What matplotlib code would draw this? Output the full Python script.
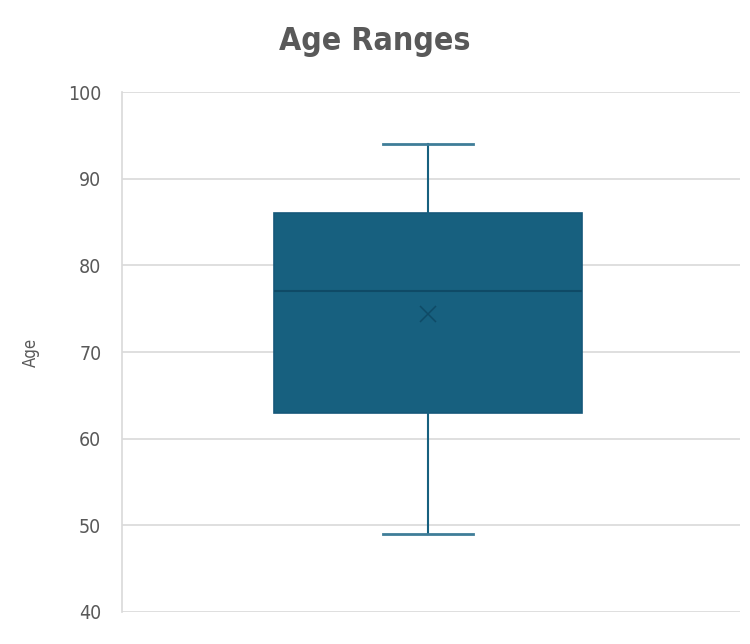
import matplotlib.pyplot as plt

# Box plot summary
q1 = 63
median = 77
q3 = 86
mean = 74.4
whisker_low = 49
whisker_high = 94

BOX = "#17607f"
GREY = "#595959"

plt.rcParams["font.family"] = ["DejaVu Sans"]
plt.rcParams["font.stretch"] = "condensed"

fig = plt.figure(figsize=(7.5, 6.44), dpi=100)
ax = fig.add_axes([0.163, 0.0497, 0.824, 0.8074])

stats = [{
    "q1": q1, "med": median, "q3": q3, "mean": mean,
    "whislo": whisker_low, "whishi": whisker_high, "fliers": [],
}]
ax.bxp(
    stats, positions=[1], widths=0.5, capwidths=0.147,
    showmeans=True, patch_artist=True,
    boxprops=dict(facecolor=BOX, edgecolor="#15587a", linewidth=1.2),
    medianprops=dict(color="#0f4a66", linewidth=1.5),
    whiskerprops=dict(color=BOX, linewidth=1.5),
    capprops=dict(color="#3f7d98", linewidth=2),
    meanprops=dict(marker="x", markeredgecolor="#0f4a66", markersize=12, markeredgewidth=1.1),
    zorder=3,
)

ax.set_xlim(0.503, 1.507)
ax.set_ylim(40, 100)
ax.set_yticks(range(40, 101, 10))
ax.set_xticks([])
ax.grid(axis="y", color="#d9d9d9", linewidth=1.2, zorder=0)
ax.set_axisbelow(True)
for side in ["top", "right", "bottom"]:
    ax.spines[side].set_visible(False)
ax.spines["left"].set_color("#d9d9d9")
ax.spines["left"].set_linewidth(1.2)
ax.tick_params(axis="y", length=0, pad=15, labelsize=14, labelcolor=GREY)

ax.set_ylabel("Age", fontsize=12, color=GREY, labelpad=20)
fig.text(0.5, 0.935, "Age Ranges", ha="center", va="center",
         fontsize=23, fontweight="bold", color=GREY)

fig.savefig("out.png", dpi=100)
